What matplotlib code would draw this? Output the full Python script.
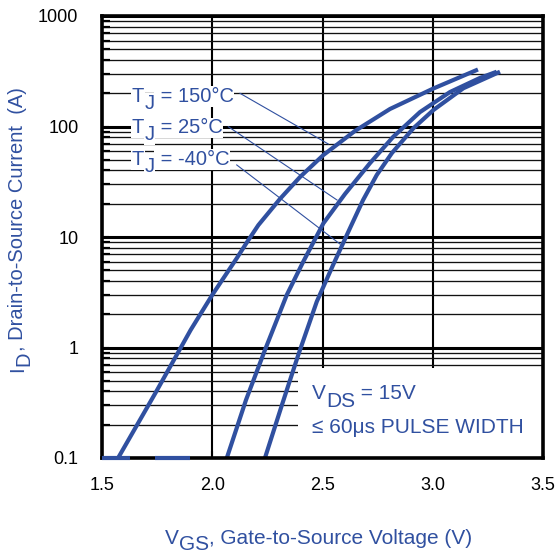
import matplotlib
matplotlib.use("Agg")
import matplotlib.pyplot as plt
from matplotlib.ticker import FixedLocator, FixedFormatter, LogLocator, NullFormatter
from matplotlib.patches import Rectangle

plt.rcParams['font.family'] = ['Liberation Sans', 'DejaVu Sans']

# ---- data ----
vgs_150 = [1.573, 1.659, 1.745, 1.902, 2.000, 2.111, 2.158, 2.209, 2.307, 2.398, 2.504, 2.647, 2.806, 3.003, 3.205]
id_150 = [0.1, 0.199, 0.396, 1.44, 2.99, 6.42, 9.0, 12.8, 22.1, 34.9, 55.2, 91.1, 144, 220.8, 328]

vgs_25 = [2.066, 2.153, 2.239, 2.338, 2.412, 2.504, 2.602, 2.715, 2.820, 2.942, 3.078, 3.214, 3.290]
id_25 = [0.1, 0.335, 0.949, 2.99, 5.94, 13.3, 24.5, 46.5, 80.4, 135, 205, 275, 313]

vgs_m40 = [2.239, 2.316, 2.390, 2.474, 2.549, 2.625, 2.684, 2.746, 2.815, 2.912, 3.003, 3.139, 3.305]
id_m40 = [0.1, 0.302, 0.855, 2.60, 5.64, 12.06, 21.6, 36.4, 57.6, 96.3, 141, 222, 313]

floor_x = [[1.5, 1.627], [1.740, 1.899]]
floor_y = 0.1

label_main = ['T', 'T', 'T']
label_sub = ['J', 'J', 'J']
label_rest = [' = 150°C', ' = 25°C', ' = -40°C']
label_x = [1.635, 1.635, 1.635]
label_y = [167.5, 86.7, 44.9]
leader_start = [(2.126, 199.6), (2.073, 99.6), (2.111, 44.9)]
leader_end = [(2.526, 69.5), (2.566, 21.6), (2.579, 8.65)]

x_ticks = [1.5, 2.0, 2.5, 3.0, 3.5]
x_ticklabels = ['1.5', '2.0', '2.5', '3.0', '3.5']
y_ticks = [0.1, 1, 10, 100, 1000]
y_ticklabels = ['0.1', '1', '10', '100', '1000']

BLUE = '#3050a0'


def sub_text(ax, x, y, main, sub, rest, size, drop, transform, zorder=4,
             bbox=None, rotation=0):
    """Text with a full-size, lowered subscript, as three real text pieces."""
    kw = dict(color=BLUE, fontsize=size, zorder=zorder, clip_on=False)
    if bbox is not None:
        kw['bbox'] = bbox
    akw = dict(kw, annotation_clip=False, textcoords='offset points')
    if rotation == 0:
        t1 = ax.text(x, y, main, transform=transform, ha='left', va='baseline', **kw)
        t2 = ax.annotate(sub, xy=(1, 0), xycoords=t1, xytext=(0.3, -drop),
                         ha='left', va='bottom', **akw)
        t3 = ax.annotate(rest, xy=(1, 0), xycoords=(t2, t1), xytext=(0, 0),
                         ha='left', va='bottom', **akw)
    else:
        t1 = ax.text(x, y, main, transform=transform, ha='right', va='bottom',
                     rotation=90, **kw)
        t2 = ax.annotate(sub, xy=(1, 1), xycoords=t1, xytext=(drop, 0.3),
                         ha='right', va='bottom', rotation=90, **akw)
        t3 = ax.annotate(rest, xy=(1, 1), xycoords=(t1, t2), xytext=(0, 0),
                         ha='right', va='bottom', rotation=90, **akw)
    return t1, t2, t3


fig = plt.figure(figsize=(5.58, 5.53), dpi=100)
ax = fig.add_axes([102/558, 1-458/553, 441/558, 442/553])
ax.set_yscale('log')
ax.set_xlim(1.5, 3.5)
ax.set_ylim(0.1, 1000)

ax.xaxis.set_major_locator(FixedLocator(x_ticks))
ax.xaxis.set_major_formatter(FixedFormatter(x_ticklabels))
ax.yaxis.set_major_locator(FixedLocator(y_ticks))
ax.yaxis.set_major_formatter(FixedFormatter(y_ticklabels))
ax.yaxis.set_minor_locator(LogLocator(base=10, subs=range(2, 10)))
ax.yaxis.set_minor_formatter(NullFormatter())

ax.grid(True, which='major', axis='x', color='black', lw=1.5, zorder=0.5)
ax.grid(True, which='major', axis='y', color='black', lw=2.2, zorder=0.5)
ax.grid(True, which='minor', axis='y', color='#111111', lw=0.95, zorder=0.5)
ax.set_axisbelow(True)

ax.tick_params(axis='both', which='major', direction='in', length=5, width=1.5,
               labelsize=13, colors='black')
ax.tick_params(axis='x', which='major', pad=14)
ax.tick_params(axis='y', which='major', pad=17)
ax.tick_params(axis='y', which='minor', direction='in', length=6, width=1.6)
for s in ax.spines.values():
    s.set_linewidth(2.6)
    s.set_zorder(5)

# white note box bottom right
ax.add_patch(Rectangle((2.389, 0.1), 3.5 - 2.389, 0.65 - 0.1, facecolor='white',
                       edgecolor='none', zorder=1.5))

for xs, ys in ((vgs_150, id_150), (vgs_25, id_25), (vgs_m40, id_m40)):
    ax.plot(xs, ys, color=BLUE, lw=3.0, zorder=3, solid_capstyle='butt',
            solid_joinstyle='round')
for fx in floor_x:
    ax.plot(fx, [floor_y, floor_y], color=BLUE, lw=3.0, zorder=6, clip_on=False,
            solid_capstyle='butt')

wb = dict(facecolor='white', edgecolor='none', pad=0.6)
for m, sb, r, lx, ly, s, e in zip(label_main, label_sub, label_rest, label_x, label_y,
                                  leader_start, leader_end):
    ax.plot([s[0], e[0]], [s[1], e[1]], color=BLUE, lw=0.8, zorder=3)
    sub_text(ax, lx, ly, m, sb, r, 14.5, 5.0, ax.transData, zorder=4, bbox=wb)

sub_text(ax, 2.451, 0.34, 'V', 'DS', ' = 15V', 15, 5.5, ax.transData, zorder=4)
ax.text(2.451, 0.167, '≤ 60μs PULSE WIDTH', color=BLUE, fontsize=15,
        va='baseline', ha='left', zorder=4)

sub_text(ax, 165/558, 1-544/553, 'V', 'GS', ', Gate-to-Source Voltage (V)', 15, 4.5,
         fig.transFigure)
sub_text(ax, 27/558, 1-372/553, 'I', 'D', ', Drain-to-Source Current  (A)', 14.5, 4.5,
         fig.transFigure, rotation=90)

fig.savefig('out.png', dpi=100)
